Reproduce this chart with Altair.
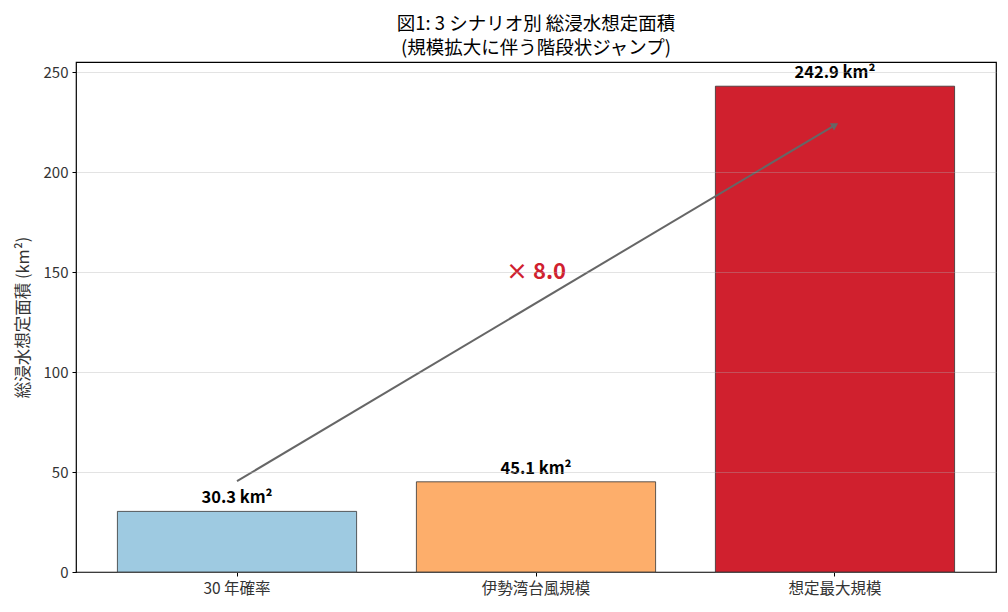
import math
import altair as alt
import pandas as pd

# scenario data
scenarios = ["30 年確率", "伊勢湾台風規模", "想定最大規模"]
areas = [30.3, 45.1, 242.9]
bar_colors = ["#9ecae1", "#fdae6b", "#d0202e"]

ratio = areas[-1] / areas[0]
arrow_start = areas[0] * 1.5
arrow_end = areas[-1] * 0.92

df = pd.DataFrame({"scenario": scenarios, "area": areas})
df["label"] = [f"{a:.1f} km²" for a in areas]

arrow_df = pd.DataFrame({"x": [scenarios[0]], "x2": [scenarios[-1]],
                         "y": [arrow_start], "y2": [arrow_end]})
head_df = pd.DataFrame({"x": [scenarios[-1]], "y": [arrow_end]})
ratio_df = pd.DataFrame({"x": [scenarios[1]], "y": [150.0], "t": [f"× {ratio:.1f}"]})

font = "Noto Sans CJK JP"
x_scale = alt.Scale(domain=scenarios, paddingInner=0.2, paddingOuter=0.1385)
y_scale = alt.Scale(domain=[0, 255], nice=False)

base = alt.Chart(df)

bars = base.mark_bar(stroke="#333333", strokeWidth=0.8).encode(
    x=alt.X("scenario:N", scale=x_scale, sort=scenarios,
            axis=alt.Axis(title=None, labelAngle=0, labelFontSize=15.5, labelColor="#333333",
                          tickColor="#000000", tickSize=4, domain=False, labelPadding=5)),
    y=alt.Y("area:Q", scale=y_scale,
            axis=alt.Axis(title="総浸水想定面積 (km²)", values=[0, 50, 100, 150, 200, 250],
                          labelFontSize=15, labelColor="#333333", titleFontSize=16.5,
                          titleFontWeight="normal", titleColor="#333333", titlePadding=12,
                          tickColor="#000000", tickSize=4, domain=False, labelPadding=4,
                          grid=True, gridColor="#b0b0b0", gridOpacity=0.35, zindex=1)),
    color=alt.Color("scenario:N", scale=alt.Scale(domain=scenarios, range=bar_colors), legend=None),
)

labels = base.mark_text(baseline="bottom", dy=-5, fontSize=16.5, fontWeight="bold",
                        color="#000000", font=font).encode(
    x=alt.X("scenario:N", scale=x_scale, sort=scenarios),
    y=alt.Y("area:Q", scale=y_scale),
    text="label:N",
)

pix_dx = 2 * 299
pix_dy = (arrow_end - arrow_start) * 2
head_angle = 360 - math.degrees(math.atan2(pix_dy, pix_dx))

arrow = alt.Chart(arrow_df).mark_rule(color="#666666", strokeWidth=2).encode(
    x=alt.X("x:N", scale=x_scale, sort=scenarios),
    x2="x2:N",
    y=alt.Y("y:Q", scale=y_scale),
    y2="y2:Q",
)

head = alt.Chart(head_df).mark_point(shape="triangle-right", filled=True, size=70,
                                     color="#666666", opacity=1, angle=head_angle).encode(
    x=alt.X("x:N", scale=x_scale, sort=scenarios),
    y=alt.Y("y:Q", scale=y_scale),
)

ratio_text = alt.Chart(ratio_df).mark_text(fontSize=22, fontWeight="bold", color="#d0202e",
                                           font=font).encode(
    x=alt.X("x:N", scale=x_scale, sort=scenarios),
    y=alt.Y("y:Q", scale=y_scale),
    text="t:N",
)

chart = alt.layer(bars, labels, arrow, head, ratio_text).properties(
    width=920,
    height=510,
    title=alt.TitleParams(["図1: 3 シナリオ別 総浸水想定面積", "(規模拡大に伴う階段状ジャンプ)"],
                          fontSize=18.5, fontWeight="normal", color="#000000", font=font,
                          anchor="middle", offset=5, lineHeight=24),
    autosize=alt.AutoSizeParams(type="none"),
    padding={"left": 68, "top": 54, "right": 4, "bottom": 36},
).configure(font=font).configure_view(stroke="#000000", strokeWidth=1.2)

chart.save("out.html", embed_options={"renderer": "svg", "actions": False})
